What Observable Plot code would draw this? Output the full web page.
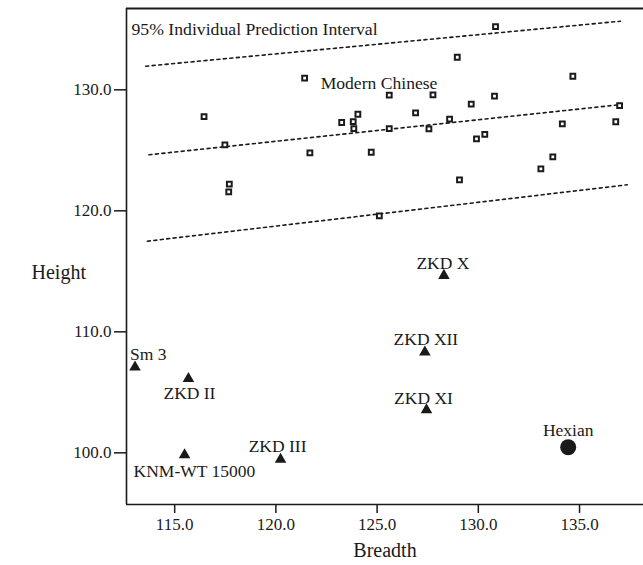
<!DOCTYPE html>
<html>
<head>
<meta charset="utf-8">
<script src="https://cdn.jsdelivr.net/npm/d3@7"></script>
<script src="https://cdn.jsdelivr.net/npm/@observablehq/plot@0.6"></script>
<style>
  html, body { margin: 0; padding: 0; background: #fff; }
  #chart svg { display: block; }
</style>
</head>
<body>
<div id="chart"></div>
<script>
// Modern Chinese sample (Breadth, Height)
const modernBreadth = [130.85,128.96,121.42,134.67,116.45,123.25,123.82,124.05,123.85,117.48,121.68,124.71,117.70,117.67,125.60,125.60,127.76,130.80,129.65,126.90,136.98,128.58,127.56,134.15,136.79,129.91,130.32,133.68,133.09,129.07,125.11];
const modernHeight  = [135.23,132.69,130.96,131.12,127.79,127.30,127.38,127.98,126.80,125.45,124.79,124.84,122.20,121.57,129.57,126.79,129.59,129.47,128.81,128.10,128.70,127.57,126.78,127.19,127.36,125.95,126.31,124.46,123.47,122.56,119.59];

// Fossil specimens
const fossilNames   = ["Sm 3","ZKD II","KNM-WT 15000","ZKD III","ZKD XI","ZKD X","ZKD XII","Hexian"];
const fossilBreadth = [113.04,115.68,115.49,120.23,127.44,128.30,127.36,134.44];
const fossilHeight  = [107.07,106.12,99.83,99.45,103.55,114.65,108.31,100.46];

// Regression line and 95% individual prediction interval (endpoints)
const upperX = [113.57,137.02], upperY = [131.95,135.67];
const midX   = [113.73,137.10], midY   = [124.63,128.79];
const lowerX = [113.65,137.36], lowerY = [117.49,122.15];

// Axis ticks
const xTicks = [115,120,125,130,135];
const yTicks = [100,110,120,130];

// Annotation texts
const titleText = "95% Individual Prediction Interval";
const groupLabel = "Modern Chinese", groupLabelX = 122.21, groupLabelY = 130.55;
const xLabel = "Breadth", yLabel = "Height";

// ---- build tables ----
const modern = modernBreadth.map((b, i) => ({breadth: b, height: modernHeight[i]}));
const fossils = fossilNames.map((n, i) => ({name: n, breadth: fossilBreadth[i], height: fossilHeight[i]}));
const toLine = (xs, ys, k) => xs.map((x, i) => ({x, y: ys[i], k}));
const bands = [...toLine(upperX, upperY, "u"), ...toLine(midX, midY, "m"), ...toLine(lowerX, lowerY, "l")];

// label placement (style)
const labelStyle = {
  "Sm 3":        {dx: -5,  dy: -13, anchor: "start"},
  "ZKD II":      {dx: 1,   dy: 15,  anchor: "middle"},
  "KNM-WT 15000":{dx: -51, dy: 17,  anchor: "start"},
  "ZKD III":     {dx: -3,  dy: -13, anchor: "middle"},
  "ZKD XI":      {dx: -3,  dy: -11, anchor: "middle"},
  "ZKD X":       {dx: -1,  dy: -12, anchor: "middle"},
  "ZKD XII":     {dx: 1,   dy: -13, anchor: "middle"},
  "Hexian":      {dx: 0,   dy: -17, anchor: "middle"}
};

const ink = "#1a1a1a";
const xDomain = [112.62, 138.16];
const yDomain = [95.73, 136.72];
const fmt = d3.format(".1f");

const labelMarks = fossils.map(f => {
  const s = labelStyle[f.name];
  return Plot.text([f], {x: "breadth", y: "height", text: "name", dx: s.dx, dy: s.dy, textAnchor: s.anchor, fill: ink, fontSize: 17.5});
});

const chart = Plot.plot({
  width: 643,
  height: 565,
  marginLeft: 126,
  marginRight: 0,
  marginTop: 8,
  marginBottom: 61,
  x: {domain: xDomain},
  y: {domain: yDomain},
  style: {fontFamily: "'Liberation Serif', 'Times New Roman', serif", fontSize: "17px", color: ink, background: "#fff"},
  marks: [
    Plot.ruleX([xDomain[0]], {stroke: ink, strokeWidth: 1.6}),
    Plot.ruleY([yDomain[0]], {stroke: ink, strokeWidth: 1.6}),
    Plot.ruleY([yDomain[1]], {stroke: ink, strokeWidth: 1.8}),
    Plot.axisX({ticks: xTicks, tickFormat: fmt, tickSize: 9, tickPadding: 4, label: null, fontSize: 17, stroke: ink, strokeWidth: 1.5}),
    Plot.axisY({ticks: yTicks, tickFormat: fmt, tickSize: 12, tickPadding: 3, label: null, fontSize: 17, stroke: ink, strokeWidth: 1.5}),
    Plot.line(bands, {x: "x", y: "y", z: "k", stroke: ink, strokeWidth: 1.6, strokeDasharray: "3,3.5"}),
    Plot.dot(modern, {x: "breadth", y: "height", symbol: "square", r: 2.7, fill: "#fff", stroke: ink, strokeWidth: 2}),
    Plot.dot(fossils.filter(f => f.name !== "Hexian"), {x: "breadth", y: "height", symbol: "triangle", r: 4.3, fill: ink, stroke: "none"}),
    Plot.dot(fossils.filter(f => f.name === "Hexian"), {x: "breadth", y: "height", r: 8, fill: ink, stroke: "none"}),
    ...labelMarks,
    Plot.text([groupLabel], {x: groupLabelX, y: groupLabelY, text: d => d, textAnchor: "start", fill: ink, fontSize: 17.6}),
    Plot.text([titleText], {frameAnchor: "top-left", dx: 5, dy: 14, text: d => d, textAnchor: "start", fill: ink, fontSize: 17.7}),
    Plot.text([xLabel], {frameAnchor: "bottom", dy: 52, text: d => d, fill: ink, fontSize: 20}),
    Plot.text([yLabel], {frameAnchor: "left", dx: -95, dy: 16, text: d => d, fill: ink, fontSize: 20})
  ]
});
document.getElementById("chart").appendChild(chart);
</script>
</body>
</html>
